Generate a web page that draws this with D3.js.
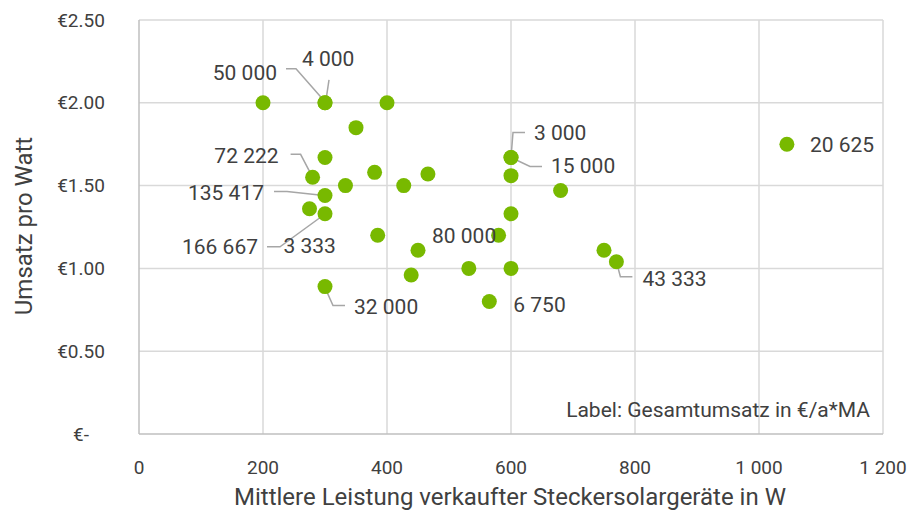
<!DOCTYPE html>
<html>
<head>
<meta charset="utf-8">
<script src="https://cdn.jsdelivr.net/npm/d3@7"></script>
<style>
  body { margin: 0; background: #fff; }
  text { font-family: Roboto, "Noto Sans", sans-serif; fill: #404040; }
</style>
</head>
<body>
<svg id="chart" width="912" height="517"></svg>
<script>
// mean power of sold devices (W) and revenue per watt (EUR)
const powerW = [200, 300, 300, 400, 350, 300, 280, 333, 380, 427, 466, 300, 275, 300,
                385, 450, 439, 532, 600, 565, 580, 600, 600, 600, 600, 680, 750, 770, 1045, 300];
const eurPerWatt = [2.0, 2.0, 2.0, 2.0, 1.85, 1.67, 1.55, 1.5, 1.58, 1.5, 1.57, 1.44, 1.36, 1.33,
                    1.2, 1.11, 0.96, 1.0, 1.0, 0.8, 1.2, 1.33, 1.56, 1.67, 1.67, 1.47, 1.11, 1.04, 1.75, 0.89];
// total revenue label per point ("" = no label)
const totalLabels = ["", "50 000", "4 000", "", "", "", "72 222", "", "", "", "", "135 417", "3 333", "166 667",
                     "", "80 000", "", "", "", "6 750", "", "", "", "3 000", "15 000", "", "", "43 333", "20 625", "32 000"];

const xTicks = [0, 200, 400, 600, 800, 1000, 1200];
const yTicks = [0, 0.5, 1.0, 1.5, 2.0, 2.5];

// manual label placement (offset from point, px) and leader lines
const labelPlacement = {
  "50 000":  { dx: -48, dy: -30, anchor: "end",   leader: [[-39, -34], [-29, -34], [0, -1]] },
  "4 000":   { dx: -23, dy: -44, anchor: "start", leader: [[4, -23], [1, -3]] },
  "72 222":  { dx: -34, dy: -21, anchor: "end",   leader: [[-22, -23], [-12, -23], [-1, -2]] },
  "135 417": { dx: -61, dy: -3,  anchor: "end",   leader: [[-51, -4], [-38, -4], [-1, 0]] },
  "166 667": { dx: -67, dy: 33,  anchor: "end",   leader: [[-58, 33], [-45, 33], [-1, 1]] },
  "3 333":   { dx: -26, dy: 37,  anchor: "start" },
  "32 000":  { dx: 29,  dy: 20,  anchor: "start", leader: [[0, 1], [8, 19], [20, 19]] },
  "80 000":  { dx: 14,  dy: -14, anchor: "start" },
  "3 000":   { dx: 23,  dy: -24, anchor: "start", leader: [[14, -25], [2, -25], [0, 0]] },
  "15 000":  { dx: 40,  dy: 9,   anchor: "start", leader: [[31, 9], [19, 9], [0, 0]] },
  "6 750":   { dx: 24,  dy: 3,   anchor: "start" },
  "43 333":  { dx: 26,  dy: 17,  anchor: "start", leader: [[0, 0], [4, 15], [16, 15]] },
  "20 625":  { dx: 23,  dy: 1,   anchor: "start" }
};

const svg = d3.select("#chart");
const x = d3.scaleLinear().domain([0, 1200]).range([139, 883]);
const y = d3.scaleLinear().domain([0, 2.5]).range([434, 20]);

const fmtX = v => d3.format(",")(v).replace(/,/g, " ");
const fmtY = v => v === 0 ? "€-" : "€" + d3.format(".2f")(v);

// gridlines
svg.append("g").selectAll("line").data(yTicks.slice(1)).join("line")
  .attr("x1", x(0)).attr("x2", x(1200))
  .attr("y1", d => y(d)).attr("y2", d => y(d))
  .attr("stroke", "#d9d9d9").attr("stroke-width", 1.5);
svg.append("g").selectAll("line").data(xTicks.slice(1)).join("line")
  .attr("x1", d => x(d)).attr("x2", d => x(d))
  .attr("y1", y(0)).attr("y2", y(2.5))
  .attr("stroke", "#d9d9d9").attr("stroke-width", 1.5);

// axis lines
svg.append("line").attr("x1", x(0)).attr("x2", x(1200)).attr("y1", y(0)).attr("y2", y(0))
  .attr("stroke", "#bfbfbf").attr("stroke-width", 1.5);
svg.append("line").attr("x1", x(0)).attr("x2", x(0)).attr("y1", y(0)).attr("y2", y(2.5))
  .attr("stroke", "#bfbfbf").attr("stroke-width", 1.5);

// tick labels
svg.append("g").selectAll("text").data(xTicks).join("text")
  .attr("x", d => x(d)).attr("y", 467)
  .attr("text-anchor", "middle").attr("dominant-baseline", "central")
  .style("font-size", "19px").text(fmtX);
svg.append("g").selectAll("text").data(yTicks).join("text")
  .attr("x", 81).attr("y", d => y(d))
  .attr("text-anchor", "middle").attr("dominant-baseline", "central")
  .style("font-size", "19px").text(fmtY);

// axis titles
svg.append("text").attr("x", 510).attr("y", 497)
  .attr("text-anchor", "middle").attr("dominant-baseline", "central")
  .style("font-size", "24px").text("Mittlere Leistung verkaufter Steckersolargeräte in W");
svg.append("text").attr("transform", "translate(24,226) rotate(-90)")
  .attr("text-anchor", "middle").attr("dominant-baseline", "central")
  .style("font-size", "24px").text("Umsatz pro Watt");

const points = powerW.map((p, i) => ({ p, v: eurPerWatt[i], label: totalLabels[i] }));

// leader lines
const line = d3.line();
svg.append("g").selectAll("path")
  .data(points.filter(d => d.label && labelPlacement[d.label].leader))
  .join("path")
  .attr("d", d => line(labelPlacement[d.label].leader.map(([dx, dy]) => [x(d.p) + dx, y(d.v) + dy])))
  .attr("fill", "none").attr("stroke", "#a6a6a6").attr("stroke-width", 1.5);

// points
svg.append("g").selectAll("circle").data(points).join("circle")
  .attr("cx", d => x(d.p)).attr("cy", d => y(d.v)).attr("r", 7.5)
  .attr("fill", "#78b900");

// data labels
svg.append("g").selectAll("text").data(points.filter(d => d.label)).join("text")
  .attr("x", d => x(d.p) + labelPlacement[d.label].dx)
  .attr("y", d => y(d.v) + labelPlacement[d.label].dy)
  .attr("text-anchor", d => labelPlacement[d.label].anchor)
  .attr("dominant-baseline", "central")
  .style("font-size", "21px").text(d => d.label);

// note
svg.append("text").attr("x", 870).attr("y", 410)
  .attr("text-anchor", "end").attr("dominant-baseline", "central")
  .style("font-size", "21px").text("Label: Gesamtumsatz in €/a*MA");
</script>
</body>
</html>
